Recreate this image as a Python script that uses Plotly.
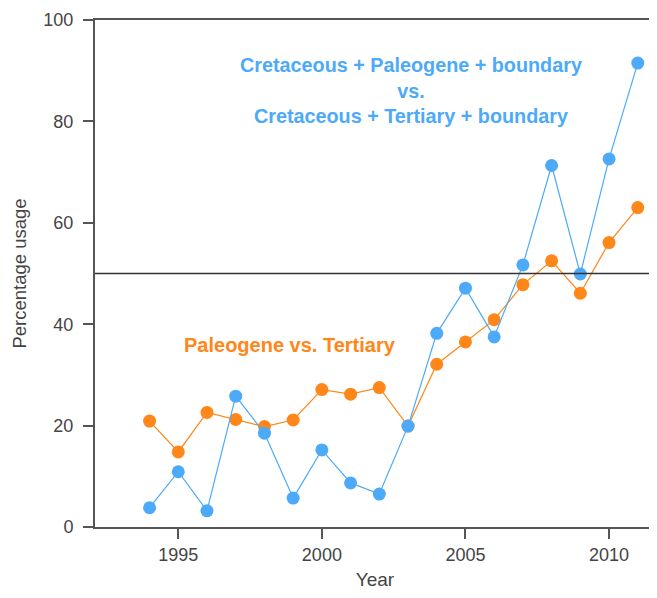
import plotly.graph_objects as go

years = list(range(1994, 2012))
cpb = [3.8, 10.9, 3.2, 25.8, 18.5, 5.7, 15.2, 8.7, 6.5, 19.9, 38.2, 47.1, 37.5, 51.7, 71.3, 49.9, 72.6, 91.5]
pt = [20.9, 14.8, 22.6, 21.2, 19.8, 21.1, 27.1, 26.2, 27.5, 19.9, 32.1, 36.5, 40.9, 47.8, 52.5, 46.1, 56.1, 63.0]
x_ticks = [1995, 2000, 2005, 2010]
y_ticks = [0, 20, 40, 60, 80, 100]

blue = "#4DAAF8"
orange = "#FF8618"
font_family = "Liberation Sans, Arial"

fig = go.Figure()
fig.add_trace(go.Scatter(x=years, y=pt, mode="lines+markers",
                         line=dict(color=orange, width=1.2),
                         marker=dict(color=orange, size=13), showlegend=False))
fig.add_trace(go.Scatter(x=years, y=cpb, mode="lines+markers",
                         line=dict(color=blue, width=1.2),
                         marker=dict(color=blue, size=13), showlegend=False))

fig.add_shape(type="line", xref="paper", yref="y", x0=0, x1=1, y0=50, y1=50,
              line=dict(color="#333333", width=1.5))

fig.add_annotation(x=2003.1, y=86.0, xref="x", yref="y", showarrow=False,
                   text="<b>Cretaceous + Paleogene + boundary<br>vs.<br>Cretaceous + Tertiary + boundary</b>",
                   font=dict(color=blue, size=19.8, family=font_family), align="center")
fig.add_annotation(x=1998.9, y=35.9, xref="x", yref="y", showarrow=False,
                   text="<b>Paleogene vs. Tertiary</b>",
                   font=dict(color=orange, size=20, family=font_family), align="center")

axis_common = dict(showgrid=False, zeroline=False, showline=True, linecolor="#555555", linewidth=2,
                   ticks="outside", ticklen=10, tickwidth=1.5, tickcolor="#555555",
                   tickfont=dict(size=18, color="#444444"))
fig.update_xaxes(range=[1992.1, 2011.6], tickvals=x_ticks, mirror=True,
                 title=dict(text="Year", font=dict(size=19, color="#444444"), standoff=10),
                 **axis_common)
fig.update_yaxes(range=[0, 100], tickvals=y_ticks, ticklabelstandoff=6,
                 title=dict(text="Percentage usage", font=dict(size=18.5, color="#444444"), standoff=12),
                 **axis_common)

fig.update_layout(width=649, height=582, margin=dict(l=87, r=2, t=12, b=63),
                  plot_bgcolor="white", paper_bgcolor="white",
                  font=dict(family=font_family))

fig.write_html("out.html")
